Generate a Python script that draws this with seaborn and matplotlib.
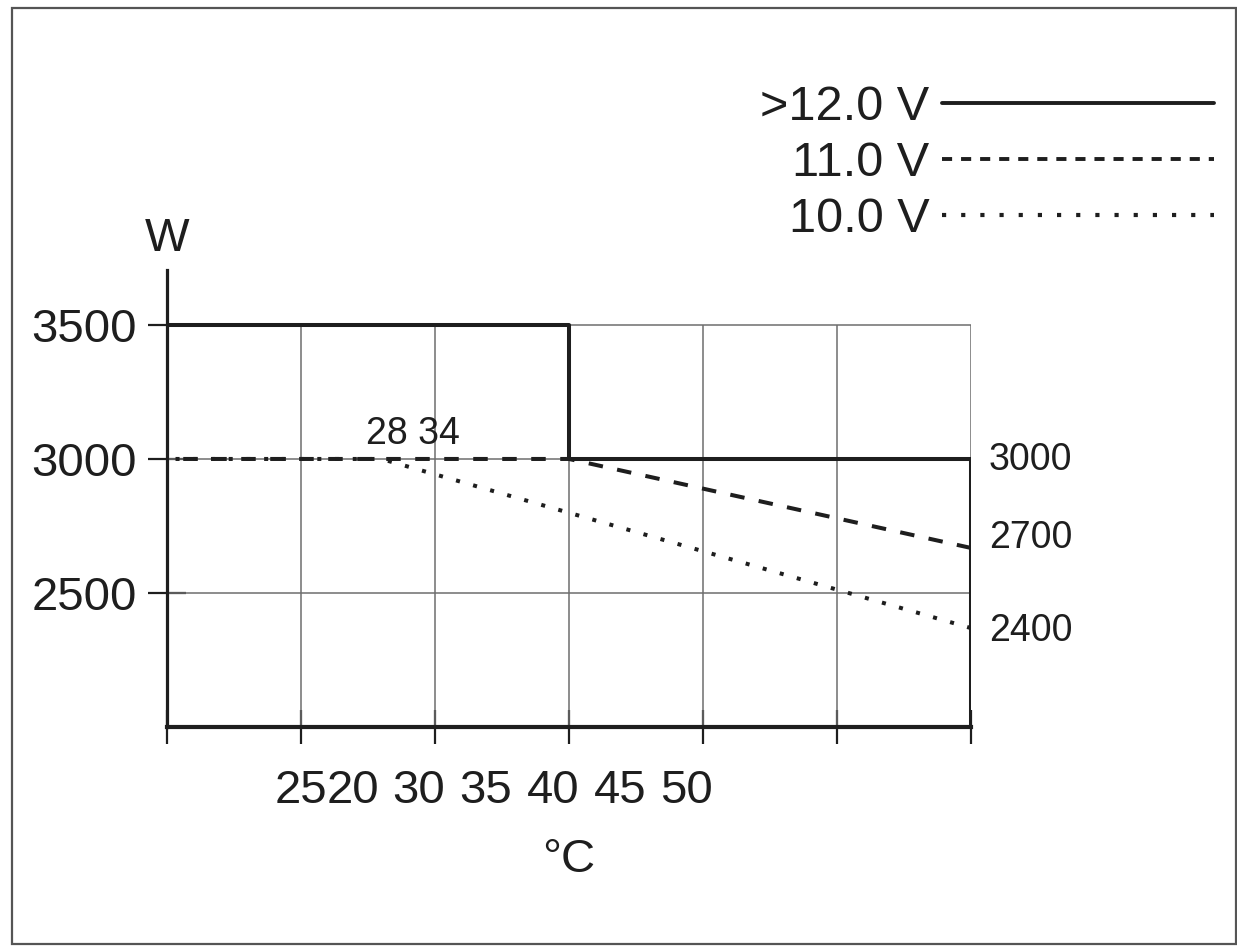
import matplotlib
matplotlib.use("Agg")
import matplotlib.pyplot as plt
from matplotlib.lines import Line2D
from matplotlib.patches import Rectangle
import seaborn as sns
import pandas as pd

# data
series_names = ['>12.0 V', '11.0 V', '10.0 V']
x_12v = [20, 35, 35, 50, 50]
y_12v = [3500, 3500, 3000, 3000, 2000]
x_11v = [20, 35, 50]
y_11v = [3000, 3000, 2668]
x_10v = [20, 28, 50]
y_10v = [3000, 3000, 2369]

grid_x = [20, 25, 30, 35, 40, 45, 50]
grid_y = [2500, 3000, 3500]
xtick_labels = ['25', '20', '30', '35', '40', '45', '50']
end_labels = ['3000', '2700', '2400']
break_label = '28 34'

# layout (where the odd tick labels sit, offsets of end labels)
xtick_label_pos = [25, 26.95, 29.4, 31.9, 34.4, 36.9, 39.4]
end_label_dy = [-1, 7, -2]

ink = '#1e1e1e'
gridc = '#6e6e6e'

sns.set_style('white')
plt.rcParams['font.family'] = ['Liberation Sans', 'DejaVu Sans']

df = pd.concat([
    pd.DataFrame({'x': x_12v, 'y': y_12v, 'series': series_names[0]}),
    pd.DataFrame({'x': x_11v, 'y': y_11v, 'series': series_names[1]}),
    pd.DataFrame({'x': x_10v, 'y': y_10v, 'series': series_names[2]}),
], ignore_index=True)

fig = plt.figure(figsize=(12.37, 9.46), dpi=100)
ax = fig.add_axes([167 / 1237, (946 - 727) / 946, (971 - 167) / 1237, (727 - 270) / 946])

# grid only up to 3500, like the drawing
ax.vlines(grid_x[1:], 2000, 3500, color=gridc, lw=1.1, zorder=1)
ax.hlines(grid_y, 20, 50, color=gridc, lw=1.1, zorder=1)

dash_map = {series_names[0]: '', series_names[1]: (3.6, 3.6), series_names[2]: (1, 3.4)}
# draw the lower voltages first so the solid line sits on top
sns.lineplot(data=df.iloc[::-1], x='x', y='y', style='series', style_order=series_names,
             dashes=dash_map, estimator=None, sort=False, units='series',
             color=ink, lw=2.9, legend=False, ax=ax, zorder=3)

ax.set_xlim(20, 50)
ax.set_ylim(2000, 3705)

for s in ['top', 'right']:
    ax.spines[s].set_visible(False)
ax.spines['left'].set_linewidth(2.3)
ax.spines['bottom'].set_linewidth(3.0)
ax.spines['left'].set_color(ink)
ax.spines['bottom'].set_color(ink)

ax.xaxis.remove_overlapping_locs = False
ax.set_xticks(grid_x)
ax.set_xticklabels([])
ax.set_xticks(xtick_label_pos, minor=True)
ax.set_xticklabels(xtick_labels, minor=True)
ax.tick_params(axis='x', which='major', bottom=True, direction='inout', length=25,
               width=1.6, color=ink)
ax.tick_params(axis='x', which='minor', bottom=True, length=0, pad=30, labelsize=34,
               labelcolor=ink)

ax.set_yticks([3500, 3000, 2500])
ax.set_yticklabels(['3500', '3000', '2500'])
ax.tick_params(axis='y', left=True, direction='inout', length=27, width=1.6, color=ink,
               pad=8, labelsize=34, labelcolor=ink)

ax.set_xlabel('°C', fontsize=34, color=ink)
ax.xaxis.set_label_coords(0.5, -0.243)
ax.set_ylabel('W', fontsize=34, color=ink, rotation=0, ha='center', va='center')
ax.yaxis.set_label_coords(0.0, 1.068)

# labels at the line ends
ends = [(x_12v[-2], y_12v[-2]), (x_11v[-1], y_11v[-1]), (x_10v[-1], y_10v[-1])]
for (ex, ey), lab, dy in zip(ends, end_labels, end_label_dy):
    ax.annotate(lab, (ex, ey), xytext=(13, dy), textcoords='offset points',
                ha='left', va='center', fontsize=27, color=ink, annotation_clip=False)

ax.annotate(break_label, (x_10v[1], y_10v[1]), xytext=(22.5, 18), textcoords='offset points',
            ha='center', va='center', fontsize=27, color=ink)

handles = [
    Line2D([], [], color=ink, lw=2.8),
    Line2D([], [], color=ink, lw=2.8, dashes=(2.6, 2.3)),
    Line2D([], [], color=ink, lw=3.0, dashes=(1, 3.6)),
]
fig.legend(handles, series_names, loc='upper right', bbox_to_anchor=(1214 / 1237, 1 - 85 / 946),
           bbox_transform=fig.transFigure, frameon=False, markerfirst=False,
           handlelength=5.6, handletextpad=0.25, labelspacing=0.23, borderpad=0,
           borderaxespad=0, fontsize=35, labelcolor=ink)

fig.patches.append(Rectangle((12 / 1237, 2 / 946), (1236 - 12) / 1237, (938 - 2) / 946,
                             transform=fig.transFigure, fill=False, lw=1.6,
                             edgecolor='#555555'))

fig.savefig('out.png', dpi=100, facecolor='white')
